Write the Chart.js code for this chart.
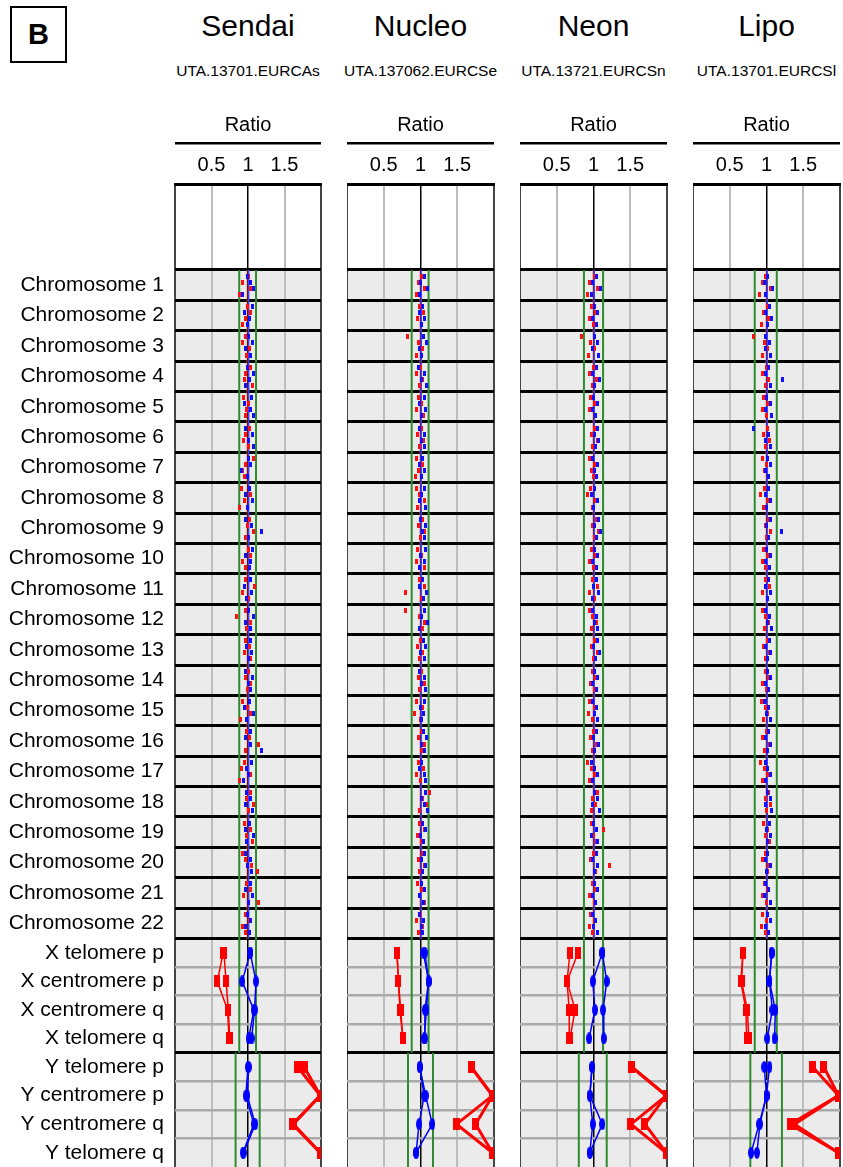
<!DOCTYPE html>
<html lang="en">
<head>
<meta charset="UTF-8">
<title>Ratio by chromosome</title>
<script src="https://cdn.jsdelivr.net/npm/chart.js"></script>
<style>
    body, html {
        margin: 0;
        padding: 0;
        width: 843px;
        height: 1167px;
        overflow: hidden;
        background: #fff;
        font-family: 'Liberation Sans', Arial, sans-serif;
        color: #000;
    }
    .box {
        position: absolute;
        left: 10px;
        top: 6px;
        width: 53px;
        height: 53px;
        border: 2.5px solid #000;
        font-weight: bold;
        font-size: 29px;
        display: flex;
        align-items: center;
        justify-content: center;
    }
    .name {
        position: absolute;
        top: 9px;
        width: 170px;
        margin-left: -85px;
        text-align: center;
        font-size: 30px;
    }
    .sample {
        position: absolute;
        top: 62px;
        width: 180px;
        margin-left: -90px;
        text-align: center;
        font-size: 15.5px;
    }
    canvas.panel {
        position: absolute;
        top: 100px;
    }
</style>
</head>
<body>
<div class="box">B</div>
<div id="heads"></div>
<div id="charts"></div>
<script>
const panelNames = ['Sendai', 'Nucleo', 'Neon', 'Lipo'];
const sampleIds = ['UTA.13701.EURCAs', 'UTA.137062.EURCSe', 'UTA.13721.EURCSn', 'UTA.13701.EURCSl'];
const rowNames = [
    'Chromosome 1', 'Chromosome 2', 'Chromosome 3', 'Chromosome 4', 'Chromosome 5', 'Chromosome 6',
    'Chromosome 7', 'Chromosome 8', 'Chromosome 9', 'Chromosome 10', 'Chromosome 11', 'Chromosome 12',
    'Chromosome 13', 'Chromosome 14', 'Chromosome 15', 'Chromosome 16', 'Chromosome 17', 'Chromosome 18',
    'Chromosome 19', 'Chromosome 20', 'Chromosome 21', 'Chromosome 22',
    'X telomere p', 'X centromere p', 'X centromere q', 'X telomere q',
    'Y telomere p', 'Y centromere p', 'Y centromere q', 'Y telomere q'
];
const xTicks = [0.5, 1, 1.5];

// autosome ratios, 4 probes per chromosome (red / blue)
const sendaiRed = [
    [1.00,0.92,1.04,0.88],[0.99,1.03,0.96,0.93],[0.96,0.93,1.02,0.98],[1.04,0.97,0.95,1.06],
    [0.94,1.00,0.98,0.97],[1.02,0.97,0.94,1.00],[1.07,0.97,0.93,0.95],[0.91,1.03,0.95,0.88],
    [1.02,0.99,1.07,0.96],[1.00,1.04,0.93,0.97],[0.97,1.09,0.93,1.01],[0.96,0.84,1.04,0.98],
    [0.97,1.02,0.95,1.04],[1.01,0.96,1.04,0.99],[0.92,0.99,1.03,0.90],[0.98,1.02,1.15,0.97],
    [0.95,0.91,1.03,0.89],[1.04,0.98,1.07,1.01],[0.95,1.04,0.98,1.06],[0.92,0.97,1.05,1.13],
    [0.98,1.04,0.94,1.15],[0.96,1.02,0.93,0.97]
];
const sendaiBlue = [
    [0.99,1.03,1.07,0.93],[1.06,0.95,1.02,0.99],[1.01,1.06,0.97,1.03],[0.99,1.08,1.02,0.96],
    [1.05,0.95,1.03,1.08],[0.97,1.06,1.01,1.08],[1.01,1.04,0.91,0.99],[1.02,0.96,1.06,0.99],
    [0.97,1.05,1.19,1.01],[1.06,0.97,1.03,1.02],[1.03,0.95,1.05,0.98],[1.01,1.07,0.97,1.04],
    [1.04,0.98,1.05,1.00],[0.96,1.06,1.00,1.03],[1.02,0.95,1.07,0.98],[1.03,0.97,1.04,1.19],
    [1.05,0.98,1.01,0.94],[0.98,1.03,0.97,1.06],[1.02,0.96,1.07,0.98],[0.97,1.03,0.99,1.05],
    [1.03,0.97,1.06,1.00],[0.99,1.04,0.96,1.02]
];
const nucleoRed = [
    [1.02,0.97,1.05,0.94],[0.98,1.04,0.96,1.01],[0.82,0.97,1.03,0.95],[1.00,0.94,1.03,0.98],
    [0.97,1.02,0.95,1.04],[1.01,0.96,1.04,0.99],[0.95,1.03,0.97,0.93],[0.94,0.98,1.05,0.96],
    [1.03,0.97,1.06,1.00],[0.96,1.02,0.94,1.05],[0.98,1.06,0.80,1.02],[0.79,0.98,1.05,1.03],
    [1.00,0.96,1.03,0.98],[1.02,0.97,1.05,0.99],[0.95,1.03,0.92,1.00],[1.01,0.97,1.06,1.02],
    [0.97,1.04,0.95,1.00],[1.12,1.03,1.08,0.98],[0.98,1.05,0.96,1.02],[1.03,0.97,1.06,0.99],
    [0.96,1.02,0.98,1.05],[1.00,0.95,1.03,0.97]
];
const nucleoBlue = [
    [1.05,1.00,1.09,0.98],[1.03,0.99,1.06,1.02],[1.04,1.08,0.99,1.02],[0.97,1.06,1.02,1.08],
    [1.05,0.99,1.07,1.01],[0.98,1.06,1.02,1.05],[1.03,0.98,1.06,1.01],[1.05,1.01,0.98,1.07],
    [1.00,1.07,1.03,1.05],[1.07,1.00,1.05,0.98],[1.03,0.99,1.08,1.04],[1.06,1.01,1.09,0.99],
    [1.04,1.07,1.00,1.05],[0.99,1.05,1.02,1.07],[1.06,1.00,1.04,1.02],[1.04,1.08,1.01,1.06],
    [1.02,0.98,1.05,1.07],[1.07,1.02,1.05,1.10],[1.03,1.07,1.00,1.04],[1.05,1.01,1.07,1.03],
    [1.02,1.06,0.99,1.04],[0.98,1.04,1.01,1.03]
];
const neonRed = [
    [1.01,0.95,1.06,0.92],[0.97,1.03,0.94,1.00],[0.84,0.96,1.02,0.93],[1.00,0.95,1.04,0.98],
    [0.96,1.01,0.94,1.03],[1.02,0.97,1.05,0.99],[0.94,1.02,0.97,1.00],[0.96,0.92,1.03,0.98],
    [1.04,0.99,1.07,1.01],[0.97,1.03,0.95,1.00],[0.99,1.05,0.94,1.02],[0.95,0.99,1.04,0.97],
    [1.02,0.97,1.05,1.00],[0.98,1.03,0.96,1.01],[0.95,1.01,0.93,0.99],[1.00,0.96,1.04,0.98],
    [0.92,0.97,1.02,0.95],[1.05,0.99,1.03,0.97],[0.97,1.14,1.00,1.04],[1.00,0.96,1.22,1.03],
    [0.98,1.03,0.95,1.01],[0.96,1.01,0.94,0.99]
];
const neonBlue = [
    [1.04,0.99,1.10,0.97],[1.02,1.06,0.99,1.04],[1.01,1.05,0.98,1.07],[1.04,0.99,1.08,1.02],
    [1.00,1.06,0.98,1.03],[1.05,1.01,1.07,1.03],[0.99,1.05,1.01,1.04],[1.02,0.97,1.06,1.00],
    [1.07,1.02,1.10,1.04],[1.01,1.06,0.98,1.04],[1.04,1.00,1.07,0.98],[0.99,1.04,1.01,1.06],
    [1.05,1.00,1.08,1.03],[1.02,1.06,0.99,1.04],[0.98,1.04,1.01,1.06],[1.04,1.00,1.07,1.02],
    [0.97,1.02,1.05,0.99],[1.02,1.06,0.99,1.08],[1.00,1.04,0.97,1.06],[1.04,0.99,1.06,1.01],
    [1.01,1.05,0.98,1.03],[0.99,1.03,1.00,1.05]
];
const lipoRed = [
    [0.98,0.94,1.05,0.91],[1.01,0.96,1.03,0.93],[0.82,0.97,1.02,0.94],[1.00,0.95,1.03,0.98],
    [0.96,1.02,0.94,1.00],[1.01,0.96,1.04,0.98],[0.94,1.00,0.97,1.03],[0.97,0.92,1.02,0.96],
    [1.03,0.98,1.06,1.00],[0.96,1.01,0.94,0.99],[0.99,1.04,0.95,1.01],[0.94,0.99,1.03,0.97],
    [1.01,0.96,1.04,0.99],[0.98,1.03,0.95,1.00],[0.93,0.99,1.02,0.96],[1.00,0.95,1.04,0.97],
    [0.92,0.97,1.01,0.95],[1.03,0.98,1.05,1.00],[0.96,1.02,0.98,1.04],[0.99,0.95,1.03,1.01],
    [0.97,1.02,0.94,1.00],[0.95,1.00,0.93,0.98]
];
const lipoBlue = [
    [1.02,0.97,1.08,0.99],[1.04,0.99,1.07,1.02],[0.99,1.04,0.98,1.06],[1.03,0.98,1.22,1.05],
    [1.00,1.05,0.98,1.07],[0.82,1.03,0.99,1.06],[1.01,1.05,0.98,1.03],[1.03,0.98,1.05,1.00],
    [1.05,1.00,1.21,1.03],[1.00,1.06,0.99,1.04],[1.03,0.99,1.06,1.01],[0.98,1.04,1.01,1.07],
    [1.04,0.99,1.06,1.02],[1.01,1.05,0.98,1.03],[0.97,1.03,1.00,1.05],[1.03,0.99,1.06,1.01],
    [0.98,1.02,1.05,0.99],[1.01,1.05,0.98,1.07],[1.04,1.00,1.06,1.02],[1.02,0.98,1.05,1.00],
    [0.99,1.03,0.97,1.05],[1.01,1.05,0.99,1.03]
];

// sex chromosome probes: two replicates, values for tel p, cen p, cen q, tel q
const sendaiXRed = [[0.66,0.58,0.72,0.74],[0.67,0.70,0.73,0.75]];
const sendaiXBlue = [[1.03,0.92,1.08,1.01],[1.03,1.11,1.09,1.05]];
const sendaiYRed = [[1.68,1.99,1.61,1.99],[1.77,1.99,1.62,1.99]];
const sendaiYBlue = [[1.00,0.97,1.08,0.93],[1.01,0.99,1.10,0.94]];
const nucleoXRed = [[0.68,0.70,0.72,0.76],[0.68,0.70,0.73,0.76]];
const nucleoXBlue = [[1.04,1.11,1.06,1.06],[1.06,1.11,1.08,1.05]];
const nucleoYRed = [[1.69,1.98,1.49,1.98],[1.69,1.98,1.75,1.98]];
const nucleoYBlue = [[0.99,1.05,0.98,0.94],[0.99,1.07,1.16,0.94]];
const neonXRed = [[0.68,0.64,0.67,0.67],[0.79,0.64,0.75,0.68]];
const neonXBlue = [[1.12,0.99,1.02,0.94],[1.12,1.18,1.13,1.14]];
const neonYRed = [[1.52,1.99,1.51,1.99],[1.52,1.99,1.70,1.99]];
const neonYBlue = [[0.98,0.95,0.99,0.95],[0.98,0.95,1.12,0.95]];
const lipoXRed = [[0.68,0.65,0.72,0.73],[0.68,0.66,0.74,0.76]];
const lipoXBlue = [[1.07,1.04,1.08,1.01],[1.07,1.04,1.12,1.11]];
const lipoYRed = [[1.63,1.98,1.32,1.98],[1.78,1.98,1.38,1.98]];
const lipoYBlue = [[0.97,1.00,0.90,0.79],[1.04,1.00,0.91,0.87]];

// green limits: autosomes + X, and Y
const greenAX = [[0.88,1.11],[0.88,1.11],[0.87,1.13],[0.84,1.14]];
const greenY = [[0.83,1.16],[0.83,1.17],[0.80,1.18],[0.78,1.21]];
// faint median traces
const medianRed = [0.99, 1.00, 1.00, 1.00];
const medianBlue = [1.01, 1.01, 1.01, 1.01];

const allRed = [sendaiRed, nucleoRed, neonRed, lipoRed];
const allBlue = [sendaiBlue, nucleoBlue, neonBlue, lipoBlue];
const allXRed = [sendaiXRed, nucleoXRed, neonXRed, lipoXRed];
const allXBlue = [sendaiXBlue, nucleoXBlue, neonXBlue, lipoXBlue];
const allYRed = [sendaiYRed, nucleoYRed, neonYRed, lipoYRed];
const allYBlue = [sendaiYBlue, nucleoYBlue, neonYBlue, lipoYBlue];

// layout
const panelLeft = [175, 347, 520, 693];
const panelRight = [321, 494, 667, 840];
const labelWidth = 175;
const headerH = 2.83, chromH = 1, sexH = 0.94;
const subFrac = [0.2, 0.4, 0.6, 0.8];

const rowTops = [], rowHeights = [];
let cursor = headerH;
rowNames.forEach((n, k) => {
    const h = k < 22 ? chromH : sexH;
    rowTops.push(cursor);
    rowHeights.push(h);
    cursor += h;
});
const total = cursor;
const rowCenters = rowTops.map((t, k) => t + rowHeights[k] / 2);
const minorBounds = [23, 24, 25, 27, 28, 29].map(k => rowTops[k]);
const bounds = rowTops.slice();

Chart.defaults.font.family = "'Liberation Sans', Arial, sans-serif";
Chart.defaults.color = '#000';

function glyph(w, h, color, shape) {
    const c = document.createElement('canvas');
    c.width = w; c.height = h;
    const g = c.getContext('2d');
    g.fillStyle = color;
    if (shape === 'oval') {
        g.beginPath();
        g.ellipse(w / 2, h / 2, w / 2, h / 2, 0, 0, Math.PI * 2);
        g.fill();
    } else {
        g.fillRect(0, 0, w, h);
    }
    return c;
}
const dotRed = glyph(3, 5, '#ff1010');
const dotBlue = glyph(3, 5, '#1010ff');
const sqRed = glyph(6, 12, '#ff0000');
const sqRedY = glyph(7, 12, '#ff0000');
const ovBlue = glyph(6, 12, '#0000ff', 'oval');

const bgPlugin = {
    id: 'bg',
    beforeDraw(chart) {
        const {ctx, chartArea: a, scales: {y}} = chart;
        const top = y.getPixelForValue(headerH);
        ctx.save();
        ctx.fillStyle = '#ebebeb';
        ctx.fillRect(a.left, top, a.right - a.left, a.bottom - top);
        ctx.restore();
    },
    afterDraw(chart) {
        const {ctx, chartArea: a} = chart;
        ctx.save();
        ctx.fillStyle = '#000';
        ctx.fillRect(a.left, a.top - 42, a.right - a.left, 2.5);
        ctx.restore();
    }
};

function vline(x, y0, y1, color, width) {
    return {
        type: 'line', data: [{x: x, y: y0}, {x: x, y: y1}],
        borderColor: color, borderWidth: width, pointRadius: 0, fill: false
    };
}

function sexLine(vals, first, color, width, img) {
    return {
        type: 'line',
        data: vals.map((v, j) => ({x: v, y: rowCenters[first + j]})),
        borderColor: color, borderWidth: width,
        pointStyle: img, pointRadius: 6, fill: false, tension: 0
    };
}

function buildChart(i) {
    const left = i === 0 ? 0 : panelLeft[i];
    const cv = document.createElement('canvas');
    cv.className = 'panel';
    cv.width = panelRight[i] - left + 2;
    cv.height = 1067;
    cv.style.left = left + 'px';
    cv.style.width = cv.width + 'px';
    cv.style.height = cv.height + 'px';
    document.getElementById('charts').appendChild(cv);

    const datasets = [];
    // autosome dots
    const red = [], blue = [];
    allRed[i].forEach((row, r) => row.forEach((v, j) => red.push({x: v, y: rowTops[r] + subFrac[j] * chromH})));
    allBlue[i].forEach((row, r) => row.forEach((v, j) => blue.push({x: v, y: rowTops[r] + subFrac[j] * chromH})));
    datasets.push({type: 'scatter', data: blue, pointStyle: dotBlue, pointRadius: 3});
    datasets.push({type: 'scatter', data: red, pointStyle: dotRed, pointRadius: 3});
    // X and Y probes
    allXBlue[i].forEach(s => datasets.push(sexLine(s, 22, '#0000ff', 1.5, ovBlue)));
    allXRed[i].forEach(s => datasets.push(sexLine(s, 22, '#ff0000', 1.5, sqRed)));
    allYBlue[i].forEach(s => datasets.push(sexLine(s, 26, '#0000ff', 1.5, ovBlue)));
    allYRed[i].forEach(s => datasets.push(sexLine(s, 26, '#ff0000', 3, sqRedY)));
    // median traces
    datasets.push(vline(medianBlue[i], rowTops[0], rowTops[22], 'rgba(60,60,255,0.7)', 1));
    datasets.push(vline(medianRed[i], rowTops[0], rowTops[22], 'rgba(255,90,90,0.35)', 3));
    // green limits
    datasets.push(vline(greenAX[i][0], rowTops[0], rowTops[26], '#2e8b2e', 2));
    datasets.push(vline(greenAX[i][1], rowTops[0], rowTops[26], '#2e8b2e', 2));
    datasets.push(vline(greenY[i][0], rowTops[26], total, '#2e8b2e', 2));
    datasets.push(vline(greenY[i][1], rowTops[26], total, '#2e8b2e', 2));

    new Chart(cv.getContext('2d'), {
        type: 'scatter',
        data: {datasets: datasets},
        options: {
            responsive: false,
            animation: false,
            layout: {autoPadding: false, padding: {left: 0, right: 2, top: 0, bottom: 0}},
            plugins: {legend: {display: false}, tooltip: {enabled: false}},
            scales: {
                x: {
                    type: 'linear', position: 'top', min: 0, max: 2,
                    afterBuildTicks: s => { s.ticks = [0, 0.5, 1, 1.5, 2].map(v => ({value: v})); },
                    afterFit: s => { s.height = 84; s.paddingLeft = 0; s.paddingRight = 0; },
                    ticks: {
                        callback: v => xTicks.includes(v) ? String(v) : '',
                        font: {size: 20}, color: '#000', padding: 7, autoSkip: false, maxRotation: 0
                    },
                    grid: {
                        drawTicks: false,
                        color: c => c.tick.value === 1 ? '#000' : (c.tick.value === 0 || c.tick.value === 2 ? '#444' : '#bdbdbd'),
                        lineWidth: c => c.tick.value === 1 ? 1.5 : 2
                    },
                    border: {display: true, color: '#000', width: 3},
                    title: {display: true, text: 'Ratio', font: {size: 20}, color: '#000', padding: {top: 13, bottom: 0}}
                },
                y: {
                    type: 'linear', reverse: true, min: 0, max: total, position: 'left',
                    afterBuildTicks: s => { s.ticks = rowCenters.map(v => ({value: v})); },
                    afterFit: s => { s.width = i === 0 ? labelWidth : 0; s.paddingTop = 0; s.paddingBottom = 0; },
                    ticks: {
                        display: i === 0,
                        callback: (v, idx) => rowNames[idx],
                        font: {size: 21}, color: '#000', padding: 11, autoSkip: false
                    },
                    grid: {display: false, drawTicks: false},
                    border: {display: false}
                },
                yg: {
                    type: 'linear', reverse: true, min: 0, max: total, position: 'right',
                    afterBuildTicks: s => { s.ticks = bounds.map(v => ({value: v})); },
                    afterFit: s => { s.width = 0; s.paddingTop = 0; s.paddingBottom = 0; },
                    ticks: {display: false},
                    grid: {
                        drawTicks: false,
                        color: c => minorBounds.includes(c.tick.value) ? '#aaaaaa' : '#000',
                        lineWidth: c => minorBounds.includes(c.tick.value) ? 2.5 : 3
                    },
                    border: {display: false}
                }
            }
        },
        plugins: [bgPlugin]
    });
}

const heads = document.getElementById('heads');
panelNames.forEach((name, i) => {
    const cx = (panelLeft[i] + panelRight[i]) / 2;
    const n = document.createElement('div');
    n.className = 'name'; n.style.left = cx + 'px'; n.textContent = name;
    const s = document.createElement('div');
    s.className = 'sample'; s.style.left = cx + 'px'; s.textContent = sampleIds[i];
    heads.appendChild(n); heads.appendChild(s);
    buildChart(i);
});
</script>
</body>
</html>
